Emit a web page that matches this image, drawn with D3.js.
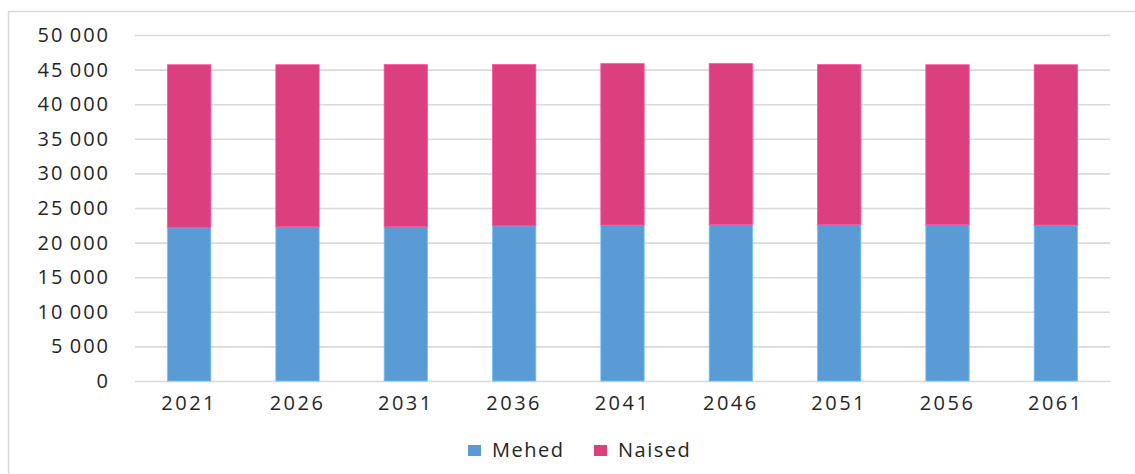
<!DOCTYPE html>
<html lang="et">
<head>
  <meta charset="utf-8">
  <title>Mehed ja naised</title>
  <script src="https://d3js.org/d3.v7.min.js" type="text/javascript"></script>
  <style>
    body { margin: 0; background: #fff; }
    text { font-family: "Open Sans", sans-serif; fill: #262626; }
    .axis path { display: none; }
    .axis line { stroke: #d9d9d9; stroke-width: 1.6; }
  </style>
</head>
<body>
<svg></svg>
<script>

var years = ['2021', '2026', '2031', '2036', '2041', '2046', '2051', '2056', '2061'];
var mehed = [22150, 22300, 22330, 22420, 22540, 22620, 22620, 22600, 22540];
var naised = [23550, 23400, 23390, 23300, 23320, 23240, 23100, 23100, 23160];
var yTicks = [0, 5000, 10000, 15000, 20000, 25000, 30000, 35000, 40000, 45000, 50000];
var seriesNames = ['Mehed', 'Naised'];
var colors = ['#5b9bd5', '#db3f7e'];

var width = 1135, height = 474;
var svg = d3.select('svg')
  .attr('width', width)
  .attr('height', height);

// outer frame, goes off the right and bottom edges like the original
svg.append('rect')
  .attr('x', 8.5).attr('y', 11.5)
  .attr('width', 1140).attr('height', 480)
  .attr('fill', 'none')
  .attr('stroke', '#d9d9d9')
  .attr('stroke-width', 1.5);

var plot = {left: 135, right: 1110, top: 35, bottom: 381};

var x = d3.scaleBand()
  .domain(years)
  .range([plot.left, plot.right])
  .paddingInner(0.6)
  .paddingOuter(0.3);

var y = d3.scaleLinear()
  .domain([0, 50000])
  .range([plot.bottom, plot.top]);

var fmt = d3.formatLocale({decimal: ',', thousands: '\u2009', grouping: [3], currency: ['', '']}).format(',d');

var yAxis = svg.append('g')
  .attr('class', 'axis')
  .attr('transform', `translate(${plot.left},0)`)
  .call(d3.axisLeft(y)
    .tickValues(yTicks)
    .tickFormat(fmt)
    .tickSize(-(plot.right - plot.left))
    .tickPadding(25));
yAxis.selectAll('text')
  .attr('font-size', 20)
  .attr('letter-spacing', 2)
  .style('font-family', '"Open Sans", sans-serif')
  .attr('fill', '#262626');

var xAxis = svg.append('g')
  .attr('class', 'axis')
  .attr('transform', `translate(0,${plot.bottom})`)
  .call(d3.axisBottom(x).tickSize(0).tickPadding(15));
xAxis.selectAll('text')
  .attr('font-size', 20)
  .attr('letter-spacing', 2.5)
  .style('font-family', '"Open Sans", sans-serif')
  .attr('fill', '#262626');

var table = years.map((yr, i) => ({year: yr, Mehed: mehed[i], Naised: naised[i]}));
var stacked = d3.stack().keys(seriesNames)(table);

svg.append('g')
  .selectAll('g')
  .data(stacked)
  .join('g')
  .attr('fill', (d, i) => colors[i])
  .attr('stroke', (d, i) => d3.color(colors[i]).brighter(0.6))
  .attr('stroke-width', 0.8)
  .selectAll('rect')
  .data(d => d)
  .join('rect')
  .attr('x', d => x(d.data.year))
  .attr('width', x.bandwidth())
  .attr('y', d => y(d[1]))
  .attr('height', d => y(d[0]) - y(d[1]));

// legend
var legendX = [468, 594];
var legend = svg.append('g')
  .selectAll('g')
  .data(seriesNames)
  .join('g')
  .attr('transform', (d, i) => `translate(${legendX[i]},450)`);
legend.append('rect')
  .attr('x', 0).attr('y', -5)
  .attr('width', 13).attr('height', 11)
  .attr('fill', (d, i) => colors[i]);
legend.append('text')
  .attr('x', 24)
  .attr('dy', '0.35em')
  .attr('font-size', 20)
  .attr('letter-spacing', 1.5)
  .text(d => d);

</script>
</body>
</html>
